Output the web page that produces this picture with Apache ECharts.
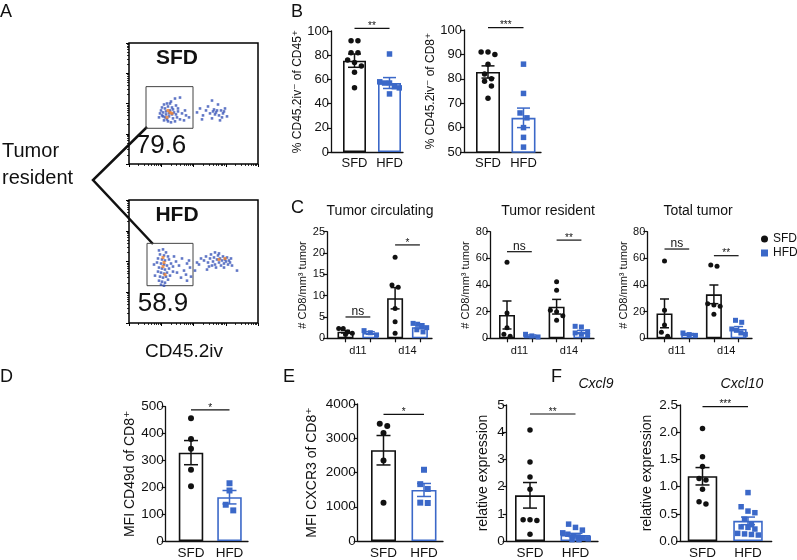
<!DOCTYPE html>
<html><head><meta charset="utf-8">
<script src="https://cdn.jsdelivr.net/npm/echarts@6/dist/echarts.min.js"></script>
<style>html,body{margin:0;padding:0;background:#fff}#c{width:797px;height:560px}</style>
</head><body><div id="c"></div>
<script>
// ================= DATA =================
const groupNames = ['SFD', 'HFD'];
const dayNames = ['d11', 'd14'];

// Panel A: flow cytometry events (arbitrary fluorescence units) and gates
const sfdFlowBlue = [[35,60],[38,61],[42,63],[46,66],[51,67],[33,57],[36,56],[39,58],[43,57],[47,59],[32,54],[34,52],[37,53],[41,54],[45,52],[49,53],[53,51],[57,49],[60,47],[33,49],[36,47],[40,48],[44,46],[48,47],[35,44],[39,43],[42,42],[46,43],[51,45],[55,44],[31,51],[37,50],[43,50],[41,61],[49,56],[56,54],[30,47],[38,45],[44,55],[34,48],[40,51],[47,50],
  [68,52],[71,56],[74,49],[77,54],[79,58],[81,51],[83,46],[85,55],[87,52],[89,60],[90,49],[92,54],[94,51],[96,56],[98,48],[83,64],[91,44],[73,45],[86,50],[93,47],[88,54],[84,53],[95,53]];
const sfdFlowOrange = [[39,54],[43,51],[38,47],[41,52]];
const hfdFlowBlue = [[30,72],[34,73],[37,70],[31,68],[35,67],[39,66],[29,64],[33,63],[36,62],[40,63],[28,60],[32,59],[35,58],[38,57],[42,59],[30,55],[33,54],[36,53],[40,54],[44,56],[29,51],[32,50],[35,49],[38,50],[31,46],[34,45],[37,46],[41,47],[30,42],[33,41],[36,40],[32,38],[35,37],[47,61],[50,57],[53,64],[55,52],[58,59],[61,55],[48,50],[52,45],[57,48],[45,66],[60,62],[25,58],[26,47],[39,43],[44,51],
  [75,62],[77,66],[79,60],[81,64],[82,68],[84,61],[85,65],[86,58],[88,63],[89,67],[90,60],[91,64],[92,57],[93,62],[94,66],[95,59],[96,63],[97,61],[98,65],[99,58],[100,62],[101,60],[102,64],[87,55],[83,57],[80,56],[78,53],[95,55],[90,69],[86,70],[103,57],[70,58],[66,52],[68,60],[72,64],[108,52],[62,46],[58,42]];
const hfdFlowOrange = [[34,65],[34,56],[36,48],[35,60],[96,64],[90,63]];
const sfdGate = [[17,36],[64,78]];
const hfdGate = [[18,37],[64,79]];
const gatePercents = ['79.6', '58.9'];

// Panel B
const bLeftSFD = [92, 92, 82, 82, 76, 74, 71, 66, 53];
const bLeftHFD = [81, 58, 57, 57, 54, 53, 48];
const bLeftMean = [75.5, 57];
const bLeftSem = [5.5, 4.5];
const bRightSFD = [91, 91, 90, 86, 82, 80, 79, 77, 72];
const bRightHFD = [86, 74, 66, 64, 60, 56, 52];
const bRightMean = [82.8, 64];
const bRightSem = [2.5, 4];

// Panel C (order: SFD d11, HFD d11, SFD d14, HFD d14)
const circPoints = [[2.3, 2.3, 1.5, 1.2, 0.9], [1.8, 1.3, 0.8], [19, 12.5, 12, 7, 3.9, 1.2], [3.5, 3.3, 3.0, 2.5, 2.0, 1.5]];
const circMean = [1.55, 1.25, 9.4, 2.6];
const circSem = [0.3, 0.3, 2.5, 0.35];
const resPoints = [[57, 19, 8, 3, 1.5], [3, 1.8, 1.0], [42.5, 36, 21, 20, 17, 13.5], [9, 8.5, 5, 4, 3, 2]];
const resMean = [17.5, 1.9, 23.7, 4.7];
const resSem = [10.5, 0.6, 5.5, 1.2];
const totPoints = [[58, 21, 10, 4.5, 1.5], [4, 2.8, 2.2], [55, 54, 26, 25, 24, 18], [13.5, 12, 7, 6, 4, 3]];
const totMean = [18.7, 3, 33, 7];
const totSem = [10.8, 0.6, 7, 1.8];

// Panel D
const dSFD = [457, 380, 343, 265, 204];
const dHFD = [215, 188, 135, 114];
const dMean = [329, 163];
const dSem = [45, 25];

// Panel E
const eSFD = [3420, 3360, 3150, 2350, 1120];
const eHFD = [2080, 1660, 1520, 1120, 1110];
const eMean = [2650, 1490];
const eSem = [430, 190];

// Panel F
const f9SFD = [4.08, 2.9, 2.35, 1.9, 0.78, 0.78, 0.75, 0.25];
const f9HFD = [0.62, 0.5, 0.4, 0.3, 0.25, 0.18, 0.15, 0.1, 0.08, 0.05, 0.05];
const f9Mean = [1.68, 0.22];
const f9Sem = [0.47, 0.06];
const f10SFD = [2.07, 1.55, 1.37, 1.15, 1.12, 0.95, 0.72, 0.68];
const f10HFD = [0.89, 0.63, 0.55, 0.52, 0.4, 0.3, 0.26, 0.25, 0.22, 0.14, 0.13, 0.12, 0.11];
const f10Mean = [1.19, 0.37];
const f10Sem = [0.16, 0.07];

// ================= STYLE / BUILD =================
const FONT = '"Liberation Sans", Arial, Helvetica, "DejaVu Sans", sans-serif';
const BLACK = '#111111';
const BLUE = '#3b68c8';
const FLOWBLUE = '#3a55b8';
const ORANGE = '#ee7f2d';

const option = {
  animation: false, backgroundColor: '#ffffff',
  textStyle: { fontFamily: FONT, color: BLACK },
  grid: [], xAxis: [], yAxis: [], series: [], graphic: []
};

// simple dot-plot layout: points at similar heights share a row, spread symmetrically
function swarm(values, center, sp, pxPerUnit, size, maxW) {
  const idx = values.map((v, i) => i).sort((a, b) => values[b] - values[a]);
  const rows = [];
  idx.forEach(i => {
    const y = values[i] * pxPerUnit;
    const r = rows[rows.length - 1];
    if (r && Math.abs(r.y - y) < size * 1.15) r.items.push(i); else rows.push({ y, items: [i] });
  });
  const out = [];
  rows.forEach(r => {
    const n = r.items.length;
    const step = n > 1 ? Math.min(size * 1.25, maxW / (n - 1)) : 0;
    r.items.forEach((i, k) => { const off = (k - (n - 1) / 2) * step; out.push([center + off / sp, values[i]]); });
  });
  return out;
}

function addPlot(p) {
  const gi = option.grid.length;
  option.grid.push({ left: p.left, top: p.top, width: p.right - p.left, height: p.bottom - p.top });
  const xmin = -(p.c0 - p.left) / p.sp, xmax = (p.right - p.c0) / p.sp;
  const xi = option.xAxis.length;
  option.xAxis.push({
    type: 'value', gridIndex: gi, min: xmin, max: xmax, splitLine: { show: false },
    axisLine: { onZero: false, lineStyle: { color: BLACK, width: 1.3 } },
    axisTick: { show: !!p.xTicks, customValues: p.xTicks || [], length: 4, lineStyle: { color: BLACK, width: 1.2 } },
    axisLabel: {
      customValues: p.xLabelPos, color: BLACK, fontSize: p.xFont, margin: p.xMargin, fontFamily: FONT,
      formatter: v => { const k = p.xLabelPos.findIndex(q => Math.abs(q - v) < 1e-6); return k >= 0 ? p.xLabels[k] : ''; }
    }
  });
  const yi = option.yAxis.length;
  option.yAxis.push({
    type: 'value', gridIndex: gi, min: p.ymin, max: p.ymax, interval: p.yint, splitLine: { show: false },
    axisLine: { show: true, onZero: false, lineStyle: { color: BLACK, width: 1.3 } },
    axisTick: { show: true, length: 4, lineStyle: { color: BLACK, width: 1.2 } },
    axisLabel: { fontSize: p.yFont, color: BLACK, margin: 2, fontFamily: FONT, formatter: p.yFmt || (v => String(v)) },
    name: p.yName, nameLocation: 'middle', nameGap: p.nameGap,
    nameTextStyle: { fontSize: p.nameSize, color: BLACK, fontFamily: FONT }
  });
  const pxPerUnit = (p.bottom - p.top) / (p.ymax - p.ymin);
  option.series.push({
    type: 'bar', xAxisIndex: xi, yAxisIndex: yi, barWidth: p.barW, z: 2, silent: true,
    data: p.cats.map((c, i) => ({ value: [i, c.mean], itemStyle: { color: '#ffffff', borderColor: c.color, borderWidth: 1.6 } }))
  });
  p.cats.forEach((c, i) => {
    option.series.push({
      type: 'scatter', name: c.name, xAxisIndex: xi, yAxisIndex: yi, z: 3, silent: true,
      symbol: c.symbol, symbolSize: p.dot, itemStyle: { color: c.color, opacity: 1 },
      data: swarm(c.values, i, p.sp, pxPerUnit, p.dot, p.barW * 0.85)
    });
  });
  option.series.push({
    type: 'custom', xAxisIndex: xi, yAxisIndex: yi, z: 4, clip: false, silent: true,
    data: p.cats.map((c, i) => [i, c.mean, c.sem]),
    renderItem: (params, api) => {
      const i = api.value(0), m = api.value(1), s = api.value(2);
      const col = p.cats[params.dataIndex].color;
      const t = api.coord([i, m + s]), b = api.coord([i, m - s]);
      const hw = p.capW / 2;
      const st = { stroke: col, lineWidth: 1.5 };
      return { type: 'group', children: [
        { type: 'line', shape: { x1: t[0], y1: t[1], x2: b[0], y2: b[1] }, style: st },
        { type: 'line', shape: { x1: t[0] - hw, y1: t[1], x2: t[0] + hw, y2: t[1] }, style: st },
        { type: 'line', shape: { x1: b[0] - hw, y1: b[1], x2: b[0] + hw, y2: b[1] }, style: st }
      ] };
    }
  });
  option.series.push({
    type: 'custom', xAxisIndex: xi, yAxisIndex: yi, z: 4, clip: false, silent: true,
    data: p.sig.map(s => [s.from, s.y]),
    renderItem: (params, api) => {
      const s = p.sig[params.dataIndex];
      const a = api.coord([s.from, s.y]), b = api.coord([s.to, s.y]);
      const isStar = s.text.indexOf('*') >= 0;
      return { type: 'group', children: [
        { type: 'line', shape: { x1: a[0], y1: a[1], x2: b[0], y2: b[1] }, style: { stroke: BLACK, lineWidth: 1.2 } },
        { type: 'text', x: (a[0] + b[0]) / 2, y: a[1] + (isStar ? 3 : 1),
          style: { text: s.text, fontSize: s.fs, fontFamily: FONT, fill: BLACK, align: 'center', verticalAlign: 'bottom', textAlign: 'center', textVerticalAlign: 'bottom' } }
      ] };
    }
  });
}

function twoGroups(sfd, hfd, mean, sem) {
  return [
    { name: groupNames[0], values: sfd, mean: mean[0], sem: sem[0], color: BLACK, symbol: 'circle' },
    { name: groupNames[1], values: hfd, mean: mean[1], sem: sem[1], color: BLUE, symbol: 'rect' }
  ];
}
function fourGroups(pts, mean, sem) {
  return pts.map((v, i) => ({ name: groupNames[i % 2], values: v, mean: mean[i], sem: sem[i], color: i % 2 ? BLUE : BLACK, symbol: i % 2 ? 'rect' : 'circle' }));
}

// ---- Panel A flow plots ----
function addFlow(top, height, blue, orange, gate) {
  const gi = option.grid.length;
  option.grid.push({ left: 129, top: top, width: 129, height: height, show: true, borderColor: '#000', borderWidth: 1.5, backgroundColor: 'rgba(0,0,0,0)' });
  const xi = option.xAxis.length, yi = option.yAxis.length;
  option.xAxis.push({ type: 'value', gridIndex: gi, min: 0, max: 129, show: false });
  option.yAxis.push({ type: 'value', gridIndex: gi, min: 0, max: 122, show: false });
  option.xAxis.push({ type: 'log', gridIndex: gi, min: 10, max: 100000, position: 'bottom',
    axisLine: { show: false }, axisLabel: { show: false }, splitLine: { show: false },
    axisTick: { show: true, length: 3, lineStyle: { color: '#000', width: 1 } },
    minorTick: { show: true, length: 2, splitNumber: 9, lineStyle: { color: '#000', width: 0.8 } } });
  option.yAxis.push({ type: 'log', gridIndex: gi, min: 10, max: 100000, position: 'left',
    axisLine: { show: false }, axisLabel: { show: false }, splitLine: { show: false },
    axisTick: { show: true, length: 3, lineStyle: { color: '#000', width: 1 } },
    minorTick: { show: true, length: 2, splitNumber: 9, lineStyle: { color: '#000', width: 0.8 } } });
  option.series.push({ type: 'scatter', xAxisIndex: xi, yAxisIndex: yi, symbol: 'rect', symbolSize: 2.6, silent: true,
    itemStyle: { color: FLOWBLUE }, data: blue, z: 2,
    markArea: { silent: true, itemStyle: { color: 'rgba(0,0,0,0)', borderColor: '#444', borderWidth: 1 },
      data: [[{ coord: gate[0] }, { coord: gate[1] }]] } });
  option.series.push({ type: 'scatter', xAxisIndex: xi, yAxisIndex: yi, symbol: 'rect', symbolSize: 3, silent: true,
    itemStyle: { color: ORANGE }, data: orange, z: 3 });
}
addFlow(43, 121, sfdFlowBlue, sfdFlowOrange, sfdGate);
addFlow(200, 123, hfdFlowBlue, hfdFlowOrange, hfdGate);

// ---- Panel B ----
addPlot({ left: 331, right: 403, c0: 354.5, sp: 35, top: 31, bottom: 152, ymin: 0, ymax: 100, yint: 20, yFont: 13,
  yName: '% CD45.2iv\u207B of CD45\u207A', nameGap: 23, nameSize: 12, barW: 23, capW: 13, dot: 5.5,
  xLabels: groupNames, xLabelPos: [0, 1], xFont: 13, xMargin: 5, xTicks: null,
  cats: twoGroups(bLeftSFD, bLeftHFD, bLeftMean, bLeftSem), sig: [{ from: 0, to: 1, y: 102.2, text: '**', fs: 10 }] });
addPlot({ left: 464, right: 541, c0: 488, sp: 35.5, top: 30, bottom: 152, ymin: 50, ymax: 100, yint: 10, yFont: 13,
  yName: '% CD45.2iv\u207B of CD8\u207A', nameGap: 25, nameSize: 12, barW: 24, capW: 13, dot: 5.5,
  xLabels: groupNames, xLabelPos: [0, 1], xFont: 13, xMargin: 5, xTicks: null,
  cats: twoGroups(bRightSFD, bRightHFD, bRightMean, bRightSem), sig: [{ from: 0, to: 1, y: 101, text: '***', fs: 10 }] });

// ---- Panel C ----
const cCommon = { top: 231.7, bottom: 338.3, yFont: 11, yName: '# CD8/mm\u00B3 tumor', nameGap: 13, nameSize: 11,
  barW: 16, capW: 9, dot: 5, xLabels: dayNames, xLabelPos: [0.5, 2.5], xFont: 11, xMargin: 7, xTicks: [0, 1, 2, 3] };
addPlot(Object.assign({}, cCommon, { left: 327, right: 432, c0: 345.5, sp: 24.8, ymin: 0, ymax: 25, yint: 5,
  cats: fourGroups(circPoints, circMean, circSem),
  sig: [{ from: 0, to: 1, y: 5, text: 'ns', fs: 12 }, { from: 2, to: 3, y: 21.9, text: '*', fs: 10 }] }));
addPlot(Object.assign({}, cCommon, { left: 490, right: 594, c0: 507, sp: 24.8, ymin: 0, ymax: 80, yint: 20,
  cats: fourGroups(resPoints, resMean, resSem),
  sig: [{ from: 0, to: 1, y: 65, text: 'ns', fs: 12 }, { from: 2, to: 3, y: 73.7, text: '**', fs: 10 }] }));
addPlot(Object.assign({}, cCommon, { left: 647.3, right: 752, c0: 664.5, sp: 24.7, ymin: 0, ymax: 80, yint: 20,
  cats: fourGroups(totPoints, totMean, totSem),
  sig: [{ from: 0, to: 1, y: 67, text: 'ns', fs: 12 }, { from: 2, to: 3, y: 62, text: '**', fs: 10 }] }));

// ---- Panel D ----
addPlot({ left: 165.7, right: 248, c0: 191, sp: 38.5, top: 406.7, bottom: 542.7, ymin: 0, ymax: 500, yint: 100, yFont: 13.5,
  yName: 'MFI CD49d of CD8\u207A', nameGap: 23, nameSize: 14, barW: 24.5, capW: 14, dot: 6,
  xLabels: groupNames, xLabelPos: [0, 1], xFont: 13.5, xMargin: 5, xTicks: null,
  cats: twoGroups(dSFD, dHFD, dMean, dSem), sig: [{ from: 0, to: 1, y: 488, text: '*', fs: 10 }] });

// ---- Panel E ----
addPlot({ left: 357.7, right: 443, c0: 383.5, sp: 40.5, top: 404, bottom: 542.7, ymin: 0, ymax: 4000, yint: 1000, yFont: 13.5,
  yName: 'MFI CXCR3 of CD8\u207A', nameGap: 39, nameSize: 14, barW: 25, capW: 14, dot: 6,
  xLabels: groupNames, xLabelPos: [0, 1], xFont: 13.5, xMargin: 5, xTicks: null,
  cats: twoGroups(eSFD, eHFD, eMean, eSem), sig: [{ from: 0, to: 1, y: 3700, text: '*', fs: 10 }] });

// ---- Panel F ----
addPlot({ left: 506.7, right: 598, c0: 530, sp: 45.5, top: 405, bottom: 541, ymin: 0, ymax: 5, yint: 1, yFont: 13.5,
  yName: 'relative expression', nameGap: 17, nameSize: 14, barW: 30, capW: 14, dot: 5.5,
  xLabels: groupNames, xLabelPos: [0, 1], xFont: 13.5, xMargin: 5, xTicks: null,
  cats: twoGroups(f9SFD, f9HFD, f9Mean, f9Sem), sig: [{ from: 0, to: 1, y: 4.67, text: '**', fs: 10 }] });
addPlot({ left: 680, right: 771.7, c0: 702.5, sp: 45.5, top: 405, bottom: 541, ymin: 0, ymax: 2.5, yint: 0.5, yFont: 13.5,
  yFmt: v => v.toFixed(1),
  yName: 'relative expression', nameGap: 26, nameSize: 14, barW: 29.5, capW: 14, dot: 5.5,
  xLabels: groupNames, xLabelPos: [0, 1], xFont: 13.5, xMargin: 5, xTicks: null,
  cats: twoGroups(f10SFD, f10HFD, f10Mean, f10Sem), sig: [{ from: 0, to: 1, y: 2.47, text: '***', fs: 10 }] });

// ---- Legend (panel C) ----
option.legend = {
  data: [{ name: 'SFD', icon: 'circle' }, { name: 'HFD', icon: 'rect' }],
  left: 761, top: 233, padding: 0, orient: 'vertical', itemWidth: 7, itemHeight: 7, itemGap: 2,
  selectedMode: false, textStyle: { fontSize: 12, color: BLACK, fontFamily: FONT }
};

// ---- Text annotations ----
function txt(t, x, y, size, opts) {
  opts = opts || {};
  option.graphic.push({ type: 'text', x: x, y: y, silent: true,
    style: { text: t, fill: BLACK, fontSize: size, fontFamily: FONT, fontWeight: opts.weight || 'normal', fontStyle: opts.style || 'normal',
      align: opts.align || 'center', verticalAlign: 'middle', textAlign: opts.align || 'center', textVerticalAlign: 'middle' } });
}
txt('A', 0, 12, 18, { align: 'left' });
txt('B', 291, 12, 18, { align: 'left' });
txt('C', 291, 208, 18, { align: 'left' });
txt('D', 0, 377, 18, { align: 'left' });
txt('E', 283, 377, 18, { align: 'left' });
txt('F', 551, 377, 18, { align: 'left' });
txt('SFD', 177, 58, 21, { weight: 'bold' });
txt('HFD', 177, 215, 21, { weight: 'bold' });
txt(gatePercents[0], 161, 146, 26);
txt(gatePercents[1], 163, 304, 26);
txt('CD45.2iv', 184, 352, 19);
txt('Tumor', 2, 151, 20, { align: 'left' });
txt('resident', 2, 178, 20, { align: 'left' });
txt('Tumor circulating', 380, 211, 14);
txt('Tumor resident', 548, 211, 14);
txt('Total tumor', 698, 211, 14);
txt('Cxcl9', 596, 384, 14, { style: 'italic' });
txt('Cxcl10', 742, 384, 14, { style: 'italic' });
option.graphic.push({ type: 'polyline', silent: true, shape: { points: [[147, 127], [93, 180], [153, 244]] },
  style: { stroke: BLACK, lineWidth: 2.5, fill: null } });

const chart = echarts.init(document.getElementById('c'), null, { renderer: 'canvas' });
chart.setOption(option);
</script>
</body></html>
